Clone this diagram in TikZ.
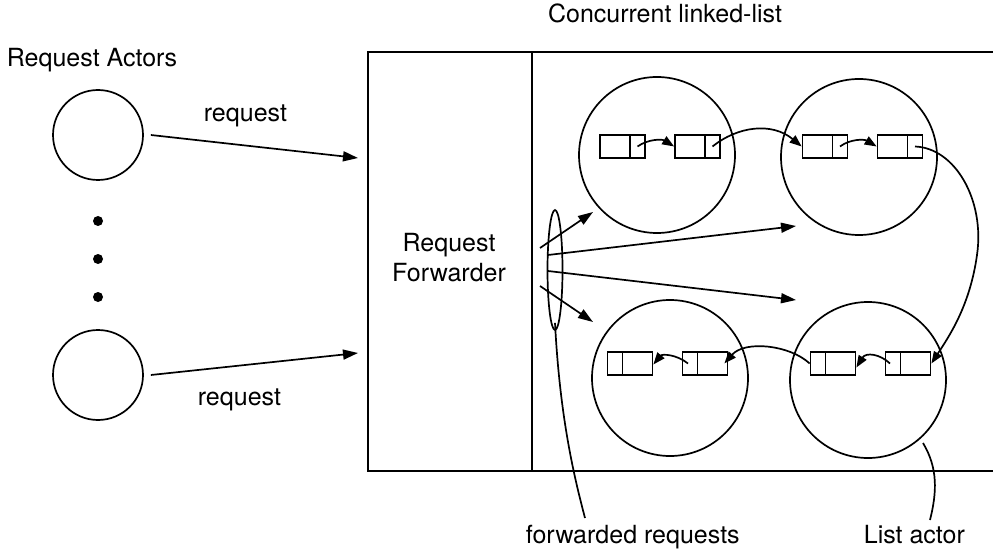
\documentclass[tikz,border=0pt]{standalone}
\usepackage{fontspec}
\setmainfont{TeX Gyre Heros}
\usetikzlibrary{arrows.meta,shapes.geometric}
\begin{document}
\begin{tikzpicture}[x=1pt,y=-1pt,line width=1.7pt,
  every node/.style={font=\fontsize{25}{30}\selectfont,inner sep=0pt},
  actor/.style={circle,draw,minimum size=90pt},
  listactor/.style={circle,draw,minimum size=156pt},
  cell/.style={rectangle,draw,minimum width=45pt,minimum height=23pt},
  big/.style={-{Triangle[length=15pt,width=10pt]}},
  small/.style={-{Triangle[length=12pt,width=9pt]}},
  dotmark/.style={circle,fill,minimum size=10pt}]
\useasboundingbox (0,0) rectangle (993,556);

% titles
\node[anchor=base west] (tact) at (6,67) {Request Actors};
\node[anchor=base] (tlist) at (665,23) {Concurrent linked-list};

% request actors
\node[actor] (ra1) at (98,135) {};
\node[actor] (ra2) at (98,375) {};
\node[dotmark] (d1) at (98,221) {};
\node[dotmark] (d2) at (98,259) {};
\node[dotmark] (d3) at (98,297) {};

% forwarder box, open to the right
\draw (993,52) -- (368,52) -- (368,471) -- (993,471);
\draw (532,52) -- (532,471);
\node[align=center] (fwd) at (449,258) {Request\\Forwarder};

% incoming requests
\coordinate (in1) at (358,158);
\coordinate (in2) at (358,353);
\draw[big] ([xshift=7pt]ra1.east) -- (in1);
\draw[big] ([xshift=7pt]ra2.east) -- (in2);
\node[anchor=base west] (lr1) at (203,122) {request};
\node[anchor=base west] (lr2) at (197,405) {request};

% list actors
\node[listactor] (la1) at (657,155) {};
\node[listactor] (la2) at (859,157) {};
\node[listactor] (la3) at (670,378) {};
\node[listactor] (la4) at (868,380) {};

% list cells (name / x / y / divider offset)
\foreach \n/\x/\y/\d in {c1/622.5/146.5/7.5, c2/697.5/146.5/7.5,
                          c3/825/146.5/7.5,   c4/900/146.5/7.5,
                          c5/630/363.5/-7.5,  c6/705/363.5/-7.5,
                          c7/833/363.5/-7.5,  c8/908/363.5/-7.5}{
  \node[cell] (\n) at (\x,\y) {};
  \draw ([xshift=\d pt]\n.north) -- ([xshift=\d pt]\n.south);
}

% links between cells
\draw[small] ([xshift=15pt]c1.center) .. controls (648,139) and (662,139) .. (c2.west);
\draw[small] ([xshift=15pt]c2.center) .. controls (738,126) and (772,122) .. (c3.west);
\draw[small] ([xshift=15pt]c3.center) .. controls (850,139) and (864,139) .. (c4.west);
\draw[small] ([xshift=15pt]c4.center) .. controls (955,148) and (985,200) .. (977,255)
  .. controls (970,305) and (950,335) .. (c8.east);
\draw[small] ([xshift=-18pt]c8.center) .. controls (880,354) and (866,352) .. ([yshift=-4pt]c7.east);
\draw[small] (c7.west) .. controls (790,345) and (745,340) .. ([xshift=-4pt]c6.east);
\draw[small] ([xshift=-17pt]c6.center) .. controls (676,354) and (662,354) .. ([yshift=-1pt]c5.east);

% forwarded requests
\node[ellipse,draw,minimum width=15pt,minimum height=120pt] (fr) at (555,270) {};
\coordinate (s1) at (540,248);
\coordinate (s2) at (548,255);
\coordinate (s3) at (548,271);
\coordinate (s4) at (540,286);
\coordinate (t1) at (593,212);
\coordinate (t2) at (796,226);
\coordinate (t3) at (796,300);
\coordinate (t4) at (593,322);
\draw[big] (s1) -- (t1);
\draw[big] (s2) -- (t2);
\draw[big] (s3) -- (t3);
\draw[big] (s4) -- (t4);

% annotations
\coordinate (fe) at (585,518);
\coordinate (le) at (930,520);
\draw ([yshift=8pt]fr.south) .. controls (560,420) and (575,480) .. (fe);
\draw (923,443) .. controls (938,468) and (937,492) .. (le);
\node[anchor=base west] (lfw) at (525,543) {forwarded requests};
\node[anchor=base west] (lla) at (863,543) {List actor};
\end{tikzpicture}
\end{document}
